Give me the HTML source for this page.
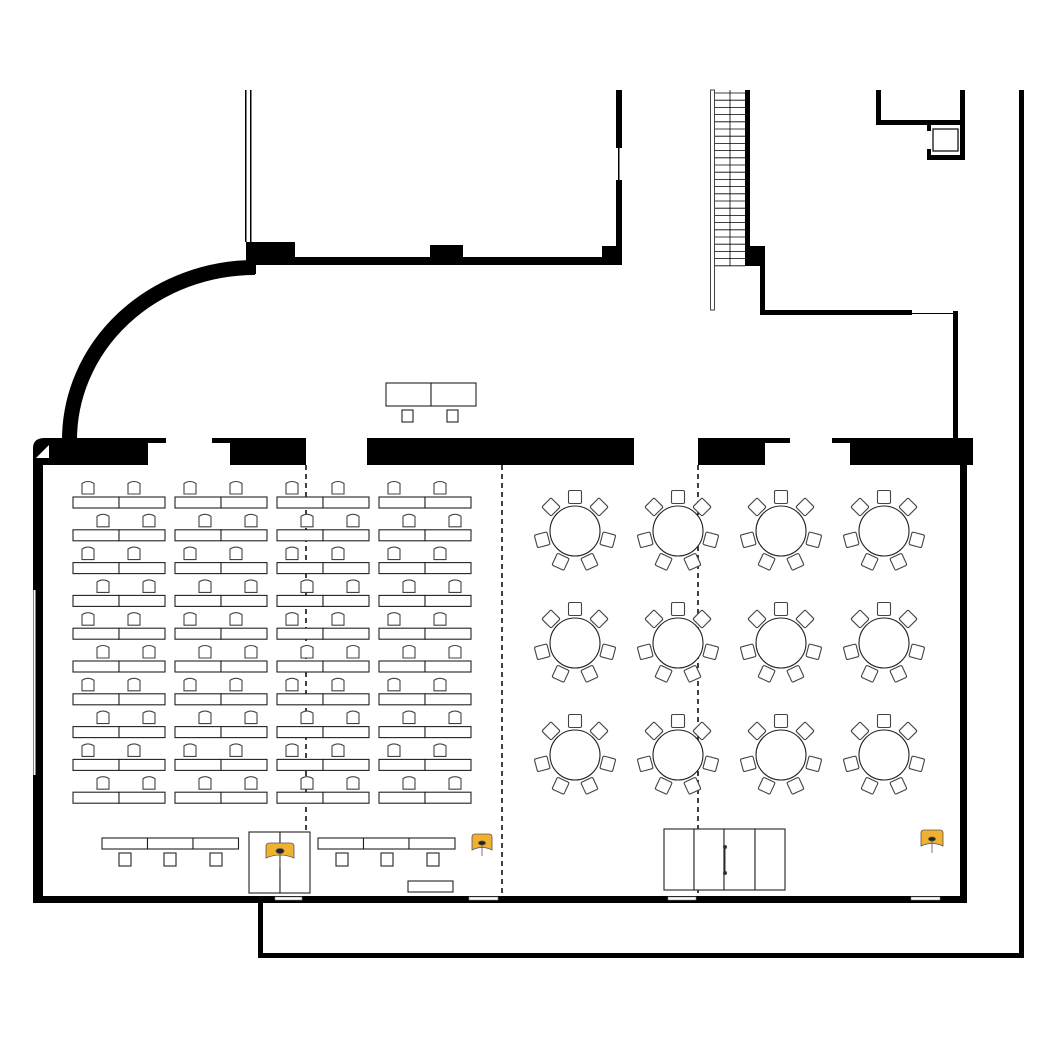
<!DOCTYPE html>
<html><head><meta charset="utf-8"><style>html,body{margin:0;padding:0;background:#fff}svg{display:block}</style></head>
<body>
<svg id="s" width="1050" height="1050" viewBox="0 0 1050 1050" xmlns="http://www.w3.org/2000/svg">
<rect width="1050" height="1050" fill="#fff"/>
<g fill="#000">
<rect x="245" y="90" width="1.5" height="152"/><rect x="250" y="90" width="1.5" height="152"/>
<rect x="246" y="242" width="49" height="23"/>
<rect x="247" y="257" width="375" height="8"/>
<rect x="430" y="245" width="33" height="20"/>
<rect x="602" y="246" width="20" height="19"/>
<rect x="616" y="90" width="6" height="58"/><rect x="618" y="148" width="1.5" height="32"/><rect x="616" y="180" width="6" height="85"/>
<rect x="246" y="262" width="10" height="12"/>
<rect x="745" y="90" width="5" height="160"/>
<rect x="745" y="246" width="20" height="20"/>
<rect x="760" y="250" width="5" height="65"/>
<rect x="760" y="310" width="152" height="5"/>
<rect x="912" y="313" width="43" height="1"/>
<rect x="953" y="311" width="5" height="130"/>
<rect x="876" y="90" width="5" height="35"/>
<rect x="876" y="120" width="89" height="5"/>
<rect x="960" y="90" width="5" height="70"/>
<rect x="927" y="155" width="38" height="5"/>
<rect x="927" y="125" width="4" height="6"/><rect x="927" y="149" width="4" height="7"/>
<rect x="1019" y="90" width="5" height="868"/>
<rect x="258" y="953" width="766" height="5"/>
<rect x="258" y="900" width="5" height="58"/>
<rect x="50" y="438" width="98" height="27"/>
<rect x="230" y="438" width="76" height="27"/>
<rect x="367" y="438" width="267" height="27"/>
<rect x="698" y="438" width="67" height="27"/>
<rect x="850" y="438" width="123" height="27"/>
<rect x="148" y="438" width="18" height="5"/><rect x="212" y="438" width="18" height="5"/>
<rect x="765" y="438" width="25" height="5"/><rect x="832" y="438" width="18" height="5"/>
<path d="M33 903 V448 Q33 438 45 438 H52 V465 H43 V903 Z"/>
<rect x="960" y="458" width="7" height="445"/>
<rect x="33" y="896" width="934" height="7"/>
</g>
<path d="M36 458 L49 445 L49 458 Z" fill="#fff"/>
<rect x="33.5" y="590" width="2" height="185" fill="#fff"/>
<g fill="#fff" stroke="#888" stroke-width="0.6">
<rect x="275" y="897" width="27" height="3"/><rect x="469" y="897" width="29" height="3"/><rect x="668" y="897" width="28" height="3"/><rect x="911" y="897" width="29" height="3"/>
</g>
<g fill="none" stroke="#000">
<path d="M69.5 440 A185.5 172.5 0 0 1 255 267.5" stroke-width="15"/>
<rect x="710.5" y="90" width="4" height="220" stroke-width="1" stroke="#444"/>
<rect x="933" y="129" width="25" height="22" stroke-width="1.2"/>
</g>
<g id="stairs" stroke="#000" stroke-width="0.8"></g>
<g stroke="#000" stroke-width="1.5" stroke-dasharray="5,4">
<line x1="306" y1="465" x2="306" y2="896"/><line x1="502" y1="465" x2="502" y2="896"/><line x1="698" y1="465" x2="698" y2="896"/>
</g>
<g id="f" fill="#fff" stroke="#222" stroke-width="1.1"></g>
<g fill="#fff" stroke="#222" stroke-width="1.1">
<rect x="386" y="383" width="45" height="23"/><rect x="431" y="383" width="45" height="23"/>
<rect x="402" y="410" width="11" height="12"/><rect x="447" y="410" width="11" height="12"/>
<rect x="102" y="838" width="45.5" height="11"/><rect x="147.5" y="838" width="45.5" height="11"/><rect x="193" y="838" width="45.5" height="11"/>
<rect x="119" y="853" width="12" height="13"/><rect x="164" y="853" width="12" height="13"/><rect x="210" y="853" width="12" height="13"/>
<rect x="318" y="838" width="45.5" height="11"/><rect x="363.5" y="838" width="45.5" height="11"/><rect x="409" y="838" width="46" height="11"/>
<rect x="336" y="853" width="12" height="13"/><rect x="381" y="853" width="12" height="13"/><rect x="427" y="853" width="12" height="13"/>
<rect x="408" y="881" width="45" height="11"/>
<rect x="249" y="832" width="31" height="61"/><rect x="280" y="832" width="30" height="61"/>
<rect x="664" y="829" width="30" height="61"/><rect x="694" y="829" width="30" height="61"/><rect x="724" y="829" width="31" height="61"/><rect x="755" y="829" width="30" height="61"/>
</g>
<g fill="#333" stroke="#333"><line x1="725" y1="845" x2="725" y2="875"/><circle cx="725" cy="847" r="1.5"/><circle cx="725" cy="873" r="1.5"/></g>
<g stroke="#555" stroke-width="0.8">
<path d="M266 846 Q266 843 270 843 H290 Q294 843 294 846 V858 Q280 852 266 858 Z" fill="#f0b030"/>
<ellipse cx="280" cy="851" rx="4" ry="2.5" fill="#222"/><line x1="280" y1="853" x2="280" y2="868"/>
<path d="M472 837 Q472 834 475 834 H489 Q492 834 492 837 V850 Q482 845 472 850 Z" fill="#f0b030"/>
<ellipse cx="482" cy="843" rx="3.5" ry="2" fill="#222"/><line x1="482" y1="845" x2="482" y2="856"/>
<path d="M921 833 Q921 830 924 830 H940 Q943 830 943 833 V846 Q932 841 921 846 Z" fill="#f0b030"/>
<ellipse cx="932" cy="839" rx="3.5" ry="2" fill="#222"/><line x1="932" y1="841" x2="932" y2="853"/>
</g>
</svg>
<script>
var NS="http://www.w3.org/2000/svg",f=document.getElementById('f'),st=document.getElementById('stairs');
function el(p,t,a){var e=document.createElementNS(NS,t);for(var k in a)e.setAttribute(k,a[k]);p.appendChild(e);return e;}
for(var y=93;y<266;y+=7.2){el(st,'line',{x1:715,y1:y,x2:745,y2:y});}
el(st,'line',{x1:730,y1:90,x2:730,y2:266});
function chair(x,y){el(f,'path',{d:'M'+(x-6)+' '+(y+13)+' V'+(y+2.5)+' Q'+x+' '+(y-1.5)+' '+(x+6)+' '+(y+2.5)+' V'+(y+13)+' Z',stroke:'#444'});}
var cols=[73,175,277,379];
for(var r=0;r<10;r++){var ty=497+r*32.8;var off=(r%2)?15:0;
 for(var c=0;c<4;c++){var x=cols[c];
  el(f,'rect',{x:x,y:ty,width:46,height:11});el(f,'rect',{x:x+46,y:ty,width:46,height:11});
  chair(x+15+off,ty-16);chair(x+61+off,ty-16);}}
var cx=[575,678,781,884],cy=[531,643,755],ang=[-90,-135,-45,165,15,115,65];
for(var i=0;i<4;i++)for(var j=0;j<3;j++){var X=cx[i],Y=cy[j];
 el(f,'circle',{cx:X,cy:Y,r:25});
 for(var k=0;k<7;k++){var a=ang[k]*Math.PI/180,px=X+34*Math.cos(a),py=Y+34*Math.sin(a);
  el(f,'rect',{x:-6.5,y:-6.5,width:13,height:13,rx:1.5,transform:'translate('+px.toFixed(1)+','+py.toFixed(1)+') rotate('+(ang[k]+90)+')',stroke:'#444'});}}
</script>
</body></html>
